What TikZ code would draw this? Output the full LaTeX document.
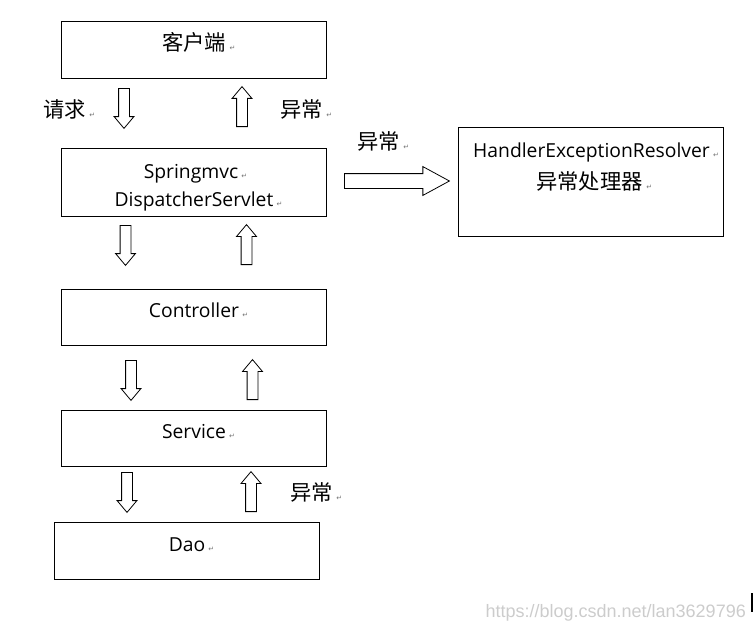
\documentclass[tikz,border=0pt]{standalone}
\usepackage{fontspec}
\setmainfont{Open Sans}
\newfontfamily\cjk{Noto Sans CJK SC}
\newfontfamily\symfont{DejaVu Sans}
\newfontfamily\wmfont{Liberation Sans}
\usetikzlibrary{shapes,positioning}
\definecolor{markgray}{gray}{0.45}
\definecolor{wmgray}{gray}{0.80}
\newcommand{\rt}{\rlap{\,{\symfont\fontsize{7}{7}\selectfont\color{markgray}↵}}}

\begin{document}
\begin{tikzpicture}[x=1pt,y=-1pt,
    box/.style={draw,line width=1pt,inner sep=0pt,outer sep=0pt,minimum width=265pt},
    txt/.style={anchor=base,inner sep=0pt,font=\fontsize{19.3}{23}\selectfont},
    ctxt/.style={anchor=base,inner sep=0pt,font=\cjk\fontsize{21.3}{25}\selectfont},
    blk/.style={single arrow,draw,line width=.8pt,inner xsep=0pt,inner ysep=5pt,
      single arrow head extend=4.5pt,single arrow tip angle=80,
      minimum height=40pt,anchor=tail},
    down/.style={blk,rotate=-90},
    up/.style={blk,rotate=90}]
  \useasboundingbox (0,0) rectangle (754,634);

  % boxes
  \node[box,minimum height=56.5pt] (client) at (194,50.25) {};
  \node[box,minimum height=68pt,below=69.5pt of client] (disp) {};
  \node[box,minimum height=55.5pt,below=73.5pt of disp] (ctrl) {};
  \node[box,minimum height=56pt,below=65.5pt of ctrl] (svc) {};
  \node[box,minimum height=57pt,below=55.5pt of svc,xshift=-7pt] (dao) {};
  \node[box,minimum height=109pt,right=131.5pt of disp] (her) {};

  % texts in boxes
  \node[ctxt] (client-t) at ([yshift=-28pt]client.north) {客户端\rt};
  \node[txt] (disp-t1) at ([yshift=-30pt,xshift=-3pt]disp.north) {Springmvc\rt};
  \node[txt] (disp-t2) at ([yshift=-58pt]disp.north) {DispatcherServlet\rt};
  \node[txt] (ctrl-t) at ([yshift=-27.5pt]ctrl.north) {Controller\rt};
  \node[txt] (svc-t) at ([yshift=-27.5pt]svc.north) {Service\rt};
  \node[txt] (dao-t) at ([yshift=-29pt]dao.north) {Dao\rt};
  \node[txt] (her-t1) at ([yshift=-30pt,xshift=1pt]her.north) {HandlerExceptionResolver\rt};
  \node[ctxt] (her-t2) at ([yshift=-62pt,xshift=-1pt]her.north) {异常处理器\rt};

  % block arrows
  \node[down] (a1) at (124,88) {};
  \node[up] (a2) at (242,127) {};
  \node[down] (a3) at (125.5,225) {};
  \node[up] (a4) at (246.5,265) {};
  \node[down] (a5) at (131,360) {};
  \node[up] (a6) at (252.5,400) {};
  \node[down] (a7) at (127,472) {};
  \node[up] (a8) at (251,512) {};
  \node[blk,minimum height=105pt,inner ysep=7pt,single arrow head extend=7pt,
    single arrow tip angle=57] (ex) at (344,181) {};

  % labels
  \node[ctxt,anchor=base west] (req) at (43,117) {请求\rt};
  \node[ctxt,anchor=base west] (err1) at (280,117) {异常\rt};
  \node[ctxt,anchor=base west] (err2) at (357,149) {异常\rt};
  \node[ctxt,anchor=base west] (err3) at (290,500) {异常\rt};

  % watermark
  \node[anchor=base east,inner sep=0pt,text=wmgray,
    font=\wmfont\fontsize{18}{21}\selectfont] (wm) at (746,617) {https://blog.csdn.net/lan3629796};
  \draw[line width=1.2pt] (752,593) -- (752,612);
\end{tikzpicture}
\end{document}
